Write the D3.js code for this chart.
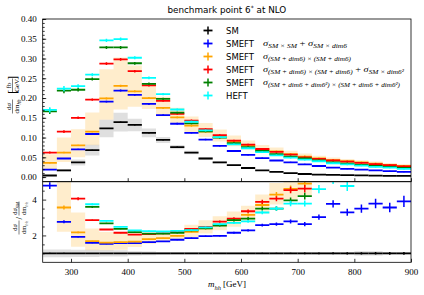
<!DOCTYPE html>
<html>
<head>
<meta charset="utf-8">
<script src="https://cdn.jsdelivr.net/npm/d3@7"></script>
<style>
body { margin: 0; background: #fff; }
svg { display: block; }
</style>
</head>
<body>
<svg id="chart" width="424" height="295"></svg>
<script>
// bins of m_hh, 25 GeV wide
const binLow = [250, 275, 300, 325, 350, 375, 400, 425, 450, 475, 500, 525, 550,
                575, 600, 625, 650, 675, 700, 725, 750, 775, 800, 825, 850, 875];
const binWidth = 25;

// dsigma/dm_hh [fb/GeV]
const sm       = [0.004, 0.017, 0.037, 0.068, 0.123, 0.139, 0.132, 0.112, 0.094, 0.076, 0.062, 0.047, 0.037,
                  0.030, 0.023, 0.017, 0.013, 0.010, 0.0078, 0.0062, 0.0055, 0.0048, 0.0042, 0.0037, 0.0032, 0.0028];
const smeftLin = [0.019, 0.047, 0.070, 0.109, 0.191, 0.219, 0.208, 0.185, 0.157, 0.135, 0.112, 0.095, 0.079,
                  0.066, 0.056, 0.048, 0.042, 0.037, 0.032, 0.028, 0.024, 0.021, 0.019, 0.017, 0.015, 0.013];
const smeftQuad = [0.036, 0.062, 0.080, 0.115, 0.199, 0.231, 0.217, 0.200, 0.175, 0.151, 0.130, 0.115, 0.102,
                   0.090, 0.080, 0.070, 0.065, 0.058, 0.052, 0.047, 0.043, 0.040, 0.037, 0.034, 0.031, 0.028];
const smeftDim6sq = [0.062, 0.115, 0.150, 0.196, 0.287, 0.298, 0.268, 0.232, 0.193, 0.160, 0.143, 0.121, 0.106,
                     0.092, 0.082, 0.071, 0.064, 0.057, 0.050, 0.046, 0.042, 0.039, 0.036, 0.033, 0.030, 0.027];
const smeftFull = [0.166, 0.219, 0.221, 0.248, 0.328, 0.328, 0.288, 0.236, 0.198, 0.163, 0.136, 0.116, 0.100,
                   0.086, 0.076, 0.066, 0.058, 0.052, 0.047, 0.042, 0.037, 0.034, 0.031, 0.028, 0.026, 0.023];
const heft     = [0.170, 0.224, 0.230, 0.259, 0.346, 0.349, 0.302, 0.251, 0.210, 0.171, 0.140, 0.118, 0.101,
                  0.083, 0.073, 0.063, 0.055, 0.049, 0.044, 0.040, 0.035, 0.032, 0.029, 0.026, 0.024, 0.021];

// ratio to SM (null = off the plotted range)
const ratioSM   = [1, 1, 1, 1, 1, 1, 1, 1, 1, 1, 1, 1, 1, 1, 1, 1, 1, 1, 1, 1, 1, 1, 1, 1, 1, 1];
const ratioLin  = [4.78, 2.76, 1.92, 1.59, 1.53, 1.57, 1.57, 1.63, 1.67, 1.76, 1.85, 1.96, 1.98,
                   2.15, 2.28, 2.57, 2.63, 2.78, 2.63, 3.02, 3.76, 3.29, 3.50, 3.78, 3.56, 3.90];
const ratioQuad = [null, 3.56, 2.17, 1.68, 1.60, 1.63, 1.65, 1.79, 1.85, 1.98, 2.20, 2.39, 2.60,
                   2.85, 3.15, 3.70, 4.28, 4.60, 4.89, null, null, null, null, null, null, null];
const ratioDim6sq = [null, null, 4.05, 2.85, 2.33, 2.15, 2.05, 2.08, 2.12, 2.20, 2.37, 2.48, 2.77,
                     2.94, 3.35, 3.87, 4.05, 4.53, 4.61, null, null, null, null, null, null, null];
const ratioFull = [null, null, null, 3.59, 2.67, 2.37, 2.18, 2.10, 2.10, 2.14, 2.28, 2.40, 2.55,
                   2.85, 2.94, 3.50, 3.50, 3.96, 4.20, null, null, null, null, null, null, null];
const ratioHeft = [null, null, null, 3.74, 2.81, 2.48, 2.28, 2.24, 2.22, 2.25, 2.30, 2.45, 2.63,
                   2.70, 2.79, 3.28, 3.50, 3.78, 3.78, 4.59, 5.15, 4.76, null, null, null, null];

// relative statistical error, scale band of the orange curve, SM band
const relErr = [0.04, 0.03, 0.02, 0.015, 0.012, 0.012, 0.012, 0.013, 0.014, 0.016, 0.018, 0.02, 0.022,
                0.025, 0.028, 0.03, 0.035, 0.04, 0.045, 0.05, 0.055, 0.06, 0.065, 0.07, 0.075, 0.08];
const bandLo = [0.55, 0.62, 0.63, 0.70, 0.73, 0.74, 0.82, 0.86, 0.88, 0.89, 0.87, 0.88, 0.88,
                0.87, 0.87, 0.87, 0.87, 0.87, 0.87, 0.87, 0.87, 0.87, 0.87, 0.87, 0.87, 0.87];
const bandHi = [1.60, 1.62, 1.51, 1.42, 1.37, 1.31, 1.30, 1.18, 1.16, 1.16, 1.18, 1.19, 1.18,
                1.17, 1.16, 1.16, 1.15, 1.15, 1.15, 1.15, 1.15, 1.15, 1.15, 1.15, 1.15, 1.15];
const smBand = [0.22, 0.22, 0.20, 0.20, 0.18, 0.17, 0.12, 0.10, 0.08, 0.07, 0.07, 0.07, 0.07,
                0.07, 0.07, 0.07, 0.07, 0.07, 0.07, 0.07, 0.07, 0.07, 0.12, 0.12, 0.07, 0.07];

const yTicksTop = [0, 0.05, 0.10, 0.15, 0.20, 0.25, 0.30, 0.35, 0.40];
const yTicksBot = [2, 4];
const xTicks = [300, 400, 500, 600, 700, 800, 900];

const colors = ["black", "#0000ff", "#ffa500", "#ff0000", "#008000", "#00ffff"];
const legendNames = ["SM", "SMEFT", "SMEFT", "SMEFT", "SMEFT", "HEFT"];

const svg = d3.select("#chart");
const left = 42.7, right = 411;
const top0 = 19, mid = 181.7, bottom = 262.3;

const x = d3.scaleLinear().domain([250, 900]).range([left, right]);
const yTop = d3.scaleLinear().domain([-0.0117, 0.40]).range([mid, top0]);
const yBot = d3.scaleLinear().domain([0.5, 5]).range([bottom, mid]);

const defs = svg.append("defs");
defs.append("clipPath").attr("id", "clipTop").append("rect")
    .attr("x", left).attr("y", top0).attr("width", right - left).attr("height", mid - top0);
defs.append("clipPath").attr("id", "clipBot").append("rect")
    .attr("x", left).attr("y", mid).attr("width", right - left).attr("height", bottom - mid);

const gTop = svg.append("g").attr("clip-path", "url(#clipTop)");
const gBot = svg.append("g").attr("clip-path", "url(#clipBot)");

// step band from per-bin low / high values
const drawBand = (g, y, lo, hi, fill, opacity) => {
    const pts = [];
    binLow.forEach((b, i) => {
        const ok = lo[i] != null;
        pts.push({ x: b, lo: lo[i], hi: hi[i], ok: ok });
        pts.push({ x: b + binWidth, lo: lo[i], hi: hi[i], ok: ok });
    });
    const area = d3.area()
        .defined((d) => d.ok)
        .x((d) => x(d.x))
        .y0((d) => y(d.lo))
        .y1((d) => y(d.hi));
    g.append("path").attr("d", area(pts)).attr("fill", fill).attr("fill-opacity", opacity);
};

// horizontal bin segments plus vertical error bars
const drawSeries = (g, y, vals, color) => {
    const data = vals.map((v, i) => ({ v: v, i: i })).filter((d) => d.v != null);
    g.selectAll(null).data(data).enter().append("line")
        .attr("x1", (d) => x(binLow[d.i]))
        .attr("x2", (d) => x(binLow[d.i] + binWidth))
        .attr("y1", (d) => y(d.v))
        .attr("y2", (d) => y(d.v))
        .attr("stroke", color).attr("stroke-width", 1.8);
    g.selectAll(null).data(data).enter().append("line")
        .attr("x1", (d) => x(binLow[d.i] + binWidth / 2))
        .attr("x2", (d) => x(binLow[d.i] + binWidth / 2))
        .attr("y1", (d) => y(d.v * (1 - relErr[d.i])))
        .attr("y2", (d) => y(d.v * (1 + relErr[d.i])))
        .attr("stroke", color).attr("stroke-width", 1.5);
};

// top panel
drawBand(gTop, yTop, smeftQuad.map((v, i) => v * bandLo[i]), smeftQuad.map((v, i) => v * bandHi[i]), "#ffa500", 0.2);
drawBand(gTop, yTop, sm.map((v, i) => v * (1 - smBand[i])), sm.map((v, i) => v * (1 + smBand[i])), "#808080", 0.25);
[sm, smeftLin, smeftQuad, smeftDim6sq, smeftFull, heft].forEach((s, k) => drawSeries(gTop, yTop, s, colors[k]));

// ratio panel
drawBand(gBot, yBot, ratioQuad.map((v, i) => v == null ? null : v * bandLo[i]),
    ratioQuad.map((v, i) => v == null ? null : v * bandHi[i]), "#ffa500", 0.2);
drawBand(gBot, yBot, ratioSM.map((v, i) => v - smBand[i]), ratioSM.map((v, i) => v + smBand[i]), "#808080", 0.25);
[ratioSM, ratioLin, ratioQuad, ratioDim6sq, ratioFull, ratioHeft].forEach((s, k) => drawSeries(gBot, yBot, s, colors[k]));

// axes
const tickFont = "'Liberation Serif', serif";
const styleAxis = (g) => {
    g.select(".domain").remove();
    g.selectAll(".tick line").attr("stroke", "black").attr("stroke-width", 0.8);
    g.selectAll(".tick text").attr("font-family", tickFont).attr("font-size", 9).attr("fill", "black");
};

svg.append("g").attr("transform", `translate(${left},0)`)
    .call(d3.axisLeft(yTop).tickValues(d3.range(0, 0.401, 0.01)).tickSize(-2).tickFormat(""))
    .call(styleAxis);
svg.append("g").attr("transform", `translate(${left},0)`)
    .call(d3.axisLeft(yTop).tickValues(yTicksTop).tickSize(-3.5).tickPadding(6).tickFormat(d3.format(".2f")))
    .call(styleAxis);

svg.append("g").attr("transform", `translate(${left},0)`)
    .call(d3.axisLeft(yBot).tickValues([1, 1.5, 2.5, 3, 3.5, 4.5]).tickSize(-2).tickFormat(""))
    .call(styleAxis);
svg.append("g").attr("transform", `translate(${left},0)`)
    .call(d3.axisLeft(yBot).tickValues(yTicksBot).tickSize(-3.5).tickPadding(6).tickFormat(d3.format("d")))
    .call(styleAxis);

[mid, bottom].forEach((yy, k) => {
    svg.append("g").attr("transform", `translate(0,${yy})`)
        .call(d3.axisBottom(x).tickValues(xTicks).tickSize(-3.5).tickPadding(6)
            .tickFormat(k === 1 ? d3.format("d") : ""))
        .call(styleAxis);
});

// frames
svg.append("rect").attr("x", left).attr("y", top0).attr("width", right - left).attr("height", mid - top0)
    .attr("fill", "none").attr("stroke", "black").attr("stroke-width", 0.8);
svg.append("rect").attr("x", left).attr("y", mid).attr("width", right - left).attr("height", bottom - mid)
    .attr("fill", "none").attr("stroke", "black").attr("stroke-width", 0.8);

// math-like text: pieces of [text, kind]
const addMath = (g, xx, yy, pieces, size, anchor, len) => {
    const t = g.append("text").attr("x", xx).attr("y", yy)
        .attr("font-family", tickFont).attr("font-size", size)
        .attr("text-anchor", anchor || "start").attr("fill", "black");
    if (len) t.attr("textLength", len).attr("lengthAdjust", "spacingAndGlyphs");
    let shift = 0;
    pieces.forEach(([s, kind]) => {
        const target = kind === "sub" ? size * 0.3 : 0;
        const ts = t.append("tspan").text(s).attr("dy", target - shift);
        shift = target;
        if (kind === "sub") ts.attr("font-size", size * 0.72);
        if (kind === "it" || kind === "sub") ts.attr("font-style", "italic");
    });
    return t;
};

// title
const title = svg.append("text").attr("x", (left + right) / 2).attr("y", 13)
    .attr("text-anchor", "middle").attr("font-family", "'DejaVu Sans', sans-serif")
    .attr("font-size", 8.8).attr("fill", "black");
title.append("tspan").text("benchmark point 6");
title.append("tspan").text("*").attr("dy", -3).attr("font-size", 6);
title.append("tspan").text(" at NLO").attr("dy", 3);

// legend
const formulas = [
    null,
    [["σ", "it"], ["SM × SM", "sub"], [" + ", "n"], ["σ", "it"], ["SM × dim6", "sub"]],
    [["σ", "it"], ["(SM + dim6) × (SM + dim6)", "sub"]],
    [["σ", "it"], ["(SM + dim6) × (SM + dim6)", "sub"], [" + ", "n"], ["σ", "it"], ["SM × dim6²", "sub"]],
    [["σ", "it"], ["(SM + dim6 + dim6²) × (SM + dim6 + dim6²)", "sub"]],
    null
];
const formulaWidth = [0, 84, 88, 141, 137, 0];
const legend = svg.append("g");
legendNames.forEach((name, i) => {
    const cy = 30.5 + i * 13;
    legend.append("line").attr("x1", 203.5).attr("x2", 212.5).attr("y1", cy).attr("y2", cy)
        .attr("stroke", colors[i]).attr("stroke-width", 1.8);
    legend.append("line").attr("x1", 208).attr("x2", 208).attr("y1", cy - 4).attr("y2", cy + 4)
        .attr("stroke", colors[i]).attr("stroke-width", 1.5);
    legend.append("text").attr("x", 226).attr("y", cy + 3.2)
        .attr("font-family", "'DejaVu Sans', sans-serif").attr("font-size", 8.5).text(name);
    if (formulas[i]) addMath(legend, 263, cy + 2.2, formulas[i], 8.5, "start", formulaWidth[i]);
});

// x label
addMath(svg, 227, 287, [["m", "it"], ["hh", "sub"], [" [GeV]", "n"]], 9, "middle");

// y labels built from small fractions
const fraction = (g, cx, num, den, size) => {
    addMath(g, cx, -2, num, size, "middle");
    addMath(g, cx, 6.8, den, size, "middle");
    g.append("line").attr("x1", cx - 7).attr("x2", cx + 7).attr("y1", 0).attr("y2", 0)
        .attr("stroke", "black").attr("stroke-width", 0.5);
};

const yl1 = svg.append("g").attr("transform", "translate(12.5,96) rotate(-90)");
fraction(yl1, -10.5, [["d", "n"], ["σ", "it"]], [["dm", "n"], ["hh", "sub"]], 7);
yl1.append("text").attr("x", 2).attr("y", 4.5).attr("font-family", tickFont).attr("font-size", 13).text("[");
fraction(yl1, 10.5, [["fb", "n"]], [["GeV", "n"]], 7);
yl1.append("text").attr("x", 16).attr("y", 4.5).attr("font-family", tickFont).attr("font-size", 13).text("]");

const yl2 = svg.append("g").attr("transform", "translate(19,218) rotate(-90)");
fraction(yl2, -9.5, [["d", "n"], ["σ", "it"]], [["dm", "n"], ["hh", "sub"]], 6.5);
yl2.append("text").attr("x", -1.5).attr("y", 3).attr("font-family", tickFont).attr("font-size", 9).text("/");
fraction(yl2, 9.5, [["d", "n"], ["σ", "it"], ["SM", "sub"]], [["dm", "n"], ["hh", "sub"]], 6.5);
</script>
</body>
</html>
